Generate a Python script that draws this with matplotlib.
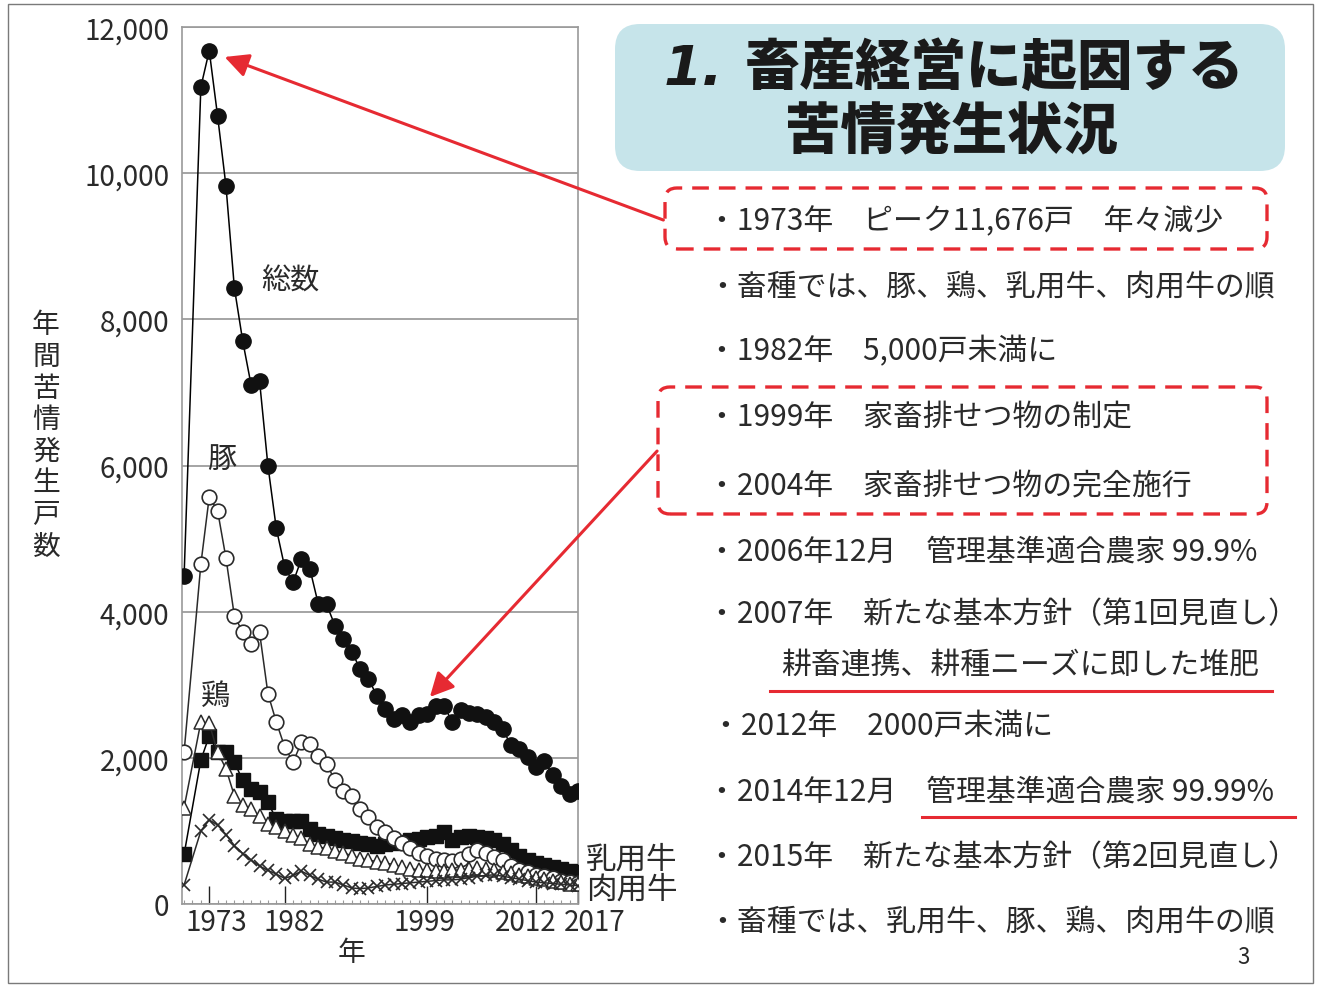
import matplotlib
matplotlib.use("Agg")
import matplotlib.pyplot as plt
from matplotlib.patches import FancyBboxPatch, Rectangle, FancyArrowPatch
from matplotlib.lines import Line2D
from matplotlib.transforms import ScaledTranslation
import matplotlib.ticker as mticker

plt.rcParams['font.family'] = ['Noto Sans CJK JP', 'DejaVu Sans']

# ---- data: annual number of complaint households by livestock type ----
years = [1970, 1972, 1973, 1974, 1975, 1976, 1977, 1978, 1979, 1980,
         1981, 1982, 1983, 1984, 1985, 1986, 1987, 1988, 1989, 1990,
         1991, 1992, 1993, 1994, 1995, 1996, 1997, 1998, 1999, 2000,
         2001, 2002, 2003, 2004, 2005, 2006, 2007, 2008, 2009, 2010,
         2011, 2012, 2013, 2014, 2015, 2016, 2017]

total = [4490, 11180, 11676, 10780, 9820, 8430, 7700, 7100, 7160, 6000,
         5140, 4610, 4400, 4720, 4590, 4110, 4100, 3810, 3630, 3450,
         3220, 3080, 2850, 2670, 2530, 2580, 2490, 2580, 2600, 2715,
         2715, 2490, 2650, 2620, 2600, 2560, 2490, 2400, 2170, 2120,
         2010, 1880, 1960, 1760, 1620, 1510, 1550]

pig = [2080, 4650, 5570, 5380, 4730, 3940, 3720, 3560, 3720, 2880,
       2490, 2150, 1940, 2210, 2190, 2030, 1920, 1690, 1550, 1480,
       1300, 1190, 1050, 980, 900, 830, 760, 700, 650, 620,
       600, 590, 620, 680, 740, 700, 640, 600, 520, 470,
       440, 400, 380, 350, 320, 300, 290]

chicken = [1320, 2490, 2470, 2080, 1850, 1480, 1350, 1300, 1200, 1100,
           1050, 1000, 950, 900, 820, 780, 760, 720, 700, 660,
           620, 600, 580, 560, 540, 500, 480, 470, 460, 450,
           450, 460, 470, 480, 490, 480, 460, 440, 420, 400,
           380, 360, 340, 320, 300, 280, 270]

dairy = [680, 1970, 2300, 2080, 2080, 1940, 1690, 1570, 1530, 1390,
         1160, 1140, 1140, 1140, 1030, 960, 930, 900, 880, 860,
         840, 820, 800, 820, 830, 850, 870, 890, 910, 930,
         980, 880, 920, 930, 920, 900, 870, 820, 740, 660,
         600, 560, 540, 510, 480, 450, 440]

beef = [260, 1000, 1150, 1080, 950, 800, 690, 600, 520, 460,
        410, 350, 390, 450, 390, 340, 300, 300, 260, 220,
        210, 220, 240, 260, 270, 280, 290, 300, 310, 320,
        330, 330, 340, 360, 380, 390, 400, 380, 360, 340,
        320, 300, 290, 280, 270, 260, 250]

labeled_years = [1973, 1982, 1999, 2012, 2017]
y_ticks = [0, 2000, 4000, 6000, 8000, 10000, 12000]

notes = [
    "・1973年　ピーク11,676戸　年々減少",
    "・畜種では、豚、鶏、乳用牛、肉用牛の順",
    "・1982年　5,000戸未満に",
    "・1999年　家畜排せつ物の制定",
    "・2004年　家畜排せつ物の完全施行",
    "・2006年12月　管理基準適合農家 99.9%",
    "・2007年　新たな基本方針（第1回見直し）",
    "耕畜連携、耕種ニーズに即した堆肥",
    "・2012年　2000戸未満に",
    "・2014年12月　管理基準適合農家 99.99%",
    "・2015年　新たな基本方針（第2回見直し）",
    "・畜種では、乳用牛、豚、鶏、肉用牛の順",
]

# ---- figure in pixel-based layout ----
W, H = 1322, 987
fig = plt.figure(figsize=(W / 100, H / 100), dpi=100)
fig.patch.set_facecolor('white')


def fx(x):
    return x / W


def fy(y):
    return 1 - y / H


def inch(x, y):
    return x / 100, (H - y) / 100


RED = '#e62a32'
TXT = '#2a2a2a'

ax = fig.add_axes([fx(182), fy(905), (578 - 182) / W, (905 - 28) / H])

ax.plot(years, total, color='black', lw=1.1, marker='o', ms=11,
        mfc='#111111', mec='#111111', zorder=3)
ax.plot(years, dairy, color='black', lw=1.1, marker='s', ms=9.5,
        mfc='#111111', mec='#111111', zorder=4)
ax.plot(years, pig, color='#2a2a2a', lw=1.1, marker='o', ms=10.5,
        mfc='white', mec='#2a2a2a', mew=1.2, zorder=5)
ax.plot(years, chicken, color='#2a2a2a', lw=1.1, marker='^', ms=10,
        mfc='white', mec='#2a2a2a', mew=1.1, zorder=6)
ax.plot(years, beef, color='#2a2a2a', lw=1.1, marker='x', ms=9,
        mec='#2a2a2a', mew=1.2, zorder=7)

ax.set_xlim(1969.75, 2017.0)
ax.set_ylim(0, 12000)
ax.set_yticks(y_ticks)
ax.yaxis.set_major_formatter(mticker.FuncFormatter(lambda v, p: f"{int(v):,}"))
ax.set_xticks(labeled_years)
ax.set_xticklabels([str(y) for y in labeled_years])
ax.set_xticks(list(range(1970, 2018)), minor=True)

ax.yaxis.grid(True, color='#8c8c8c', lw=1.1)
ax.set_axisbelow(True)
for s in ax.spines.values():
    s.set_color('#9a9a9a')
    s.set_linewidth(1.2)

ax.tick_params(axis='y', length=0, pad=9, labelsize=20, labelcolor=TXT)
ax.tick_params(axis='x', which='major', direction='in', length=13, width=1.0,
               color='#222222', labelsize=20, labelcolor=TXT, pad=2)
ax.tick_params(axis='x', which='minor', direction='in', length=3, width=0.8,
               color='#999999')

label_shift = [7, 10, -3, -10, 17]
for lbl, dx in zip(ax.get_xticklabels(), label_shift):
    lbl.set_transform(lbl.get_transform() +
                      ScaledTranslation(dx / 100, 0, fig.dpi_scale_trans))

# series names inside the chart
fig.text(fx(290), fy(282), "総数", fontsize=21, color=TXT, ha='center', va='center')
fig.text(fx(222), fy(460), "豚", fontsize=21, color=TXT, ha='center', va='center')
fig.text(fx(216), fy(697), "鶏", fontsize=21, color=TXT, ha='center', va='center')
fig.text(fx(586), fy(860), "乳用牛", fontsize=22, color=TXT, ha='left', va='center')
fig.text(fx(586), fy(890), "肉用牛", fontsize=22, color=TXT, ha='left', va='center')

# axis titles
fig.text(fx(46), fy(436), "\n".join("年間苦情発生戸数"), fontsize=20, color=TXT,
         ha='center', va='center', linespacing=1.07)
fig.text(fx(352), fy(953), "年", fontsize=20, color=TXT, ha='center', va='center')

# title panel
title_box = FancyBboxPatch(inch(615, 172), (1285 - 615) / 100, (172 - 25) / 100,
                           boxstyle="round,pad=0,rounding_size=0.25",
                           transform=fig.dpi_scale_trans, facecolor='#c6e4ea',
                           edgecolor='none', zorder=0)
fig.patches.append(title_box)
fig.text(fx(693), fy(70), "1.", fontsize=40, fontweight='bold', fontstyle='italic',
         family='DejaVu Sans', color='#1a1a1a', ha='center', va='center')
fig.text(fx(745), fy(68), "畜産経営に起因する", fontsize=40, fontweight='heavy',
         color='#1a1a1a', ha='left', va='center')
fig.text(fx(952), fy(133), "苦情発生状況", fontsize=40, fontweight='heavy',
         color='#1a1a1a', ha='center', va='center')

# notes on the right
note_pos = [(707, 222), (707, 287), (707, 352), (707, 418), (707, 487),
            (707, 552), (707, 615), (781, 665), (711, 726), (707, 792),
            (707, 858), (707, 922)]
for t, (x, y) in zip(notes, note_pos):
    fig.text(fx(x), fy(y), t, fontsize=21.5, color=TXT, ha='left', va='center')

fig.text(fx(1243), fy(958), "3", fontsize=16, color=TXT, ha='center', va='center')

# dashed highlight boxes
for (x0, y0, x1, y1) in [(665, 189, 1267, 250), (658, 388, 1267, 515)]:
    b = FancyBboxPatch(inch(x0, y1), (x1 - x0) / 100, (y1 - y0) / 100,
                       boxstyle="round,pad=0,rounding_size=0.12",
                       transform=fig.dpi_scale_trans, facecolor='none',
                       edgecolor=RED, lw=2.4, linestyle=(0, (5, 3)), zorder=2)
    fig.patches.append(b)

# red underlines
for (x0, x1, y) in [(770, 1272, 692), (922, 1295, 818)]:
    fig.add_artist(Line2D([fx(x0), fx(x1)], [fy(y), fy(y)], color=RED, lw=2.2,
                          transform=fig.transFigure))

# arrows
for (tail, head) in [((666, 222), (222, 57)), ((659, 450), (428, 700))]:
    a = FancyArrowPatch(posA=inch(*tail), posB=inch(*head),
                        transform=fig.dpi_scale_trans,
                        arrowstyle='-|>,head_length=0.9,head_width=0.45',
                        mutation_scale=16, color=RED, lw=2.2, zorder=10)
    fig.patches.append(a)

# outer frame
frame = Rectangle(inch(8, 984), (1313 - 8) / 100, (984 - 5) / 100,
                  transform=fig.dpi_scale_trans, facecolor='none',
                  edgecolor='#7a7a7a', lw=1.0)
fig.patches.append(frame)

fig.savefig("out.png", dpi=100, facecolor='white')
